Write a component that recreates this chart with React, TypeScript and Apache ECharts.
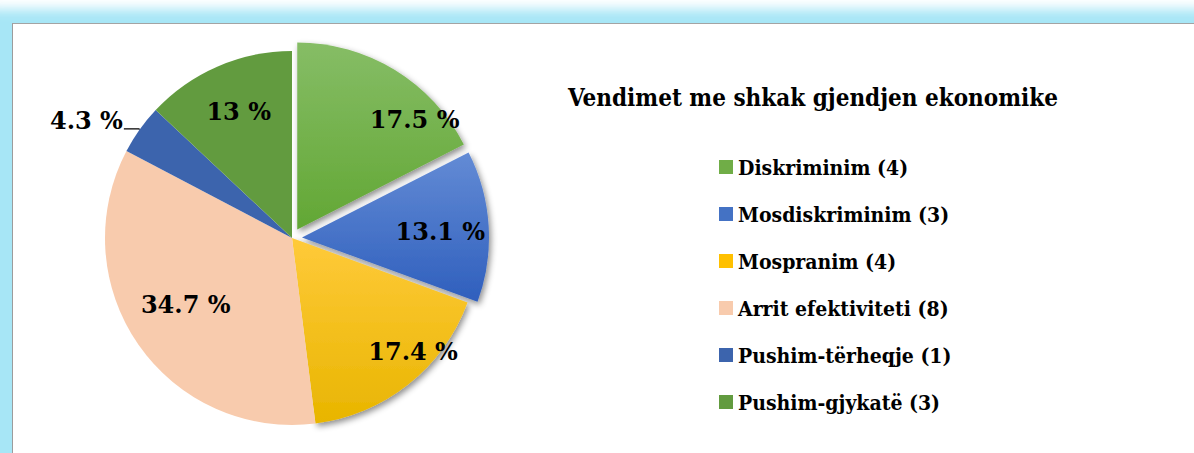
import React, { useEffect, useRef } from 'react';
import * as echarts from 'echarts';

// ---- data ----
const titleText = 'Vendimet me shkak gjendjen ekonomike';
const categories = ['Diskriminim', 'Mosdiskriminim', 'Mospranim', 'Arrit efektiviteti', 'Pushim-tërheqje', 'Pushim-gjykatë'];
const counts = [4, 3, 4, 8, 1, 3];
const percents = [17.5, 13.1, 17.4, 34.7, 4.3, 13];
const exploded = [true, true, false, false, false, false];

// ---- styles ----
const grad = (a: string, b: string) =>
  new echarts.graphic.LinearGradient(0, 0, 0, 1, [
    { offset: 0, color: a },
    { offset: 1, color: b },
  ]);
const sliceColors = [
  grad('#86bd66', '#62a734'),
  grad('#638bd5', '#2f5fbd'),
  grad('#ffca3a', '#e8b500'),
  '#f8cbad',
  '#3c64ad',
  '#629b3f',
];
const legendColors = ['#70ad47', '#4472c4', '#ffc000', '#f8cbad', '#3c64ad', '#629b3f'];
const shadowed = [true, true, true, false, false, false];
// label nudges [dx, dy] from ECharts' default inner-label anchor
const labelShift: number[][] = [
  [67, -28],
  [42, 0],
  [61, 38],
  [-27, 12],
  [0, 0],
  [-15, -38],
];
const outsideLabel = [false, false, false, false, true, false];

const LABEL_FONT = 'DejaVu Serif';
const TITLE_FONT = 'DejaVu Serif Condensed';
const LEGEND_FONT = 'DejaVu Serif Condensed';

export default function App() {
  const ref = useRef<HTMLDivElement>(null);

  useEffect(() => {
    if (!ref.current) return;
    const chart = echarts.init(ref.current, undefined, { renderer: 'svg' });

    const data = categories.map((cat, i) => {
      const item: any = {
        name: `${cat} (${counts[i]})`,
        value: percents[i],
        selected: exploded[i],
        itemStyle: {
          color: sliceColors[i],
          ...(shadowed[i]
            ? { shadowBlur: 6, shadowColor: 'rgba(0,0,0,0.45)', shadowOffsetX: 2, shadowOffsetY: 3 }
            : {}),
        },
      };
      if (outsideLabel[i]) {
        item.label = {
          position: 'outside',
          distanceToLabelLine: 1,
          padding: [0, 0, 16, 0],
        };
        item.labelLine = {
          show: true,
          length: 1,
          length2: 15,
          lineStyle: { color: '#000', width: 1.2 },
        };
      }
      return item;
    });

    const labelText = {
      fontFamily: LABEL_FONT,
      fontWeight: 'bold',
      fontSize: 24,
      lineHeight: 26,
      color: '#000',
    };

    chart.setOption({
      animation: false,
      backgroundColor: 'transparent',
      title: {
        text: titleText,
        left: 568,
        top: 85,
        padding: 0,
        textStyle: {
          fontFamily: TITLE_FONT,
          fontWeight: 'bold',
          fontSize: 24,
          color: '#000',
        },
      },
      legend: {
        orient: 'vertical',
        left: 719,
        top: 155,
        padding: 0,
        itemWidth: 14,
        itemHeight: 14,
        itemGap: 23,
        icon: 'rect',
        selectedMode: false,
        data: categories.map((cat, i) => ({
          name: `${cat} (${counts[i]})`,
          itemStyle: { color: legendColors[i], shadowBlur: 0, shadowOffsetX: 0, shadowOffsetY: 0 },
        })),
        textStyle: {
          fontFamily: LEGEND_FONT,
          fontWeight: 'bold',
          fontSize: 21,
          lineHeight: 24,
          color: '#000',
        },
      },
      series: [
        {
          type: 'pie',
          center: [292, 238],
          radius: [0, 187],
          startAngle: 90,
          clockwise: true,
          selectedMode: 'multiple',
          selectedOffset: 10,
          avoidLabelOverlap: false,
          emphasis: { disabled: true },
          silent: true,
          label: {
            show: true,
            position: 'inside',
            formatter: '{v|{c} %}',
            ...labelText,
            rich: { v: labelText },
          },
          labelLine: { show: false },
          labelLayout: (p: any) => {
            if (outsideLabel[p.dataIndex]) return {};
            const s = labelShift[p.dataIndex];
            return { dx: s[0], dy: s[1] };
          },
          data,
        },
      ],
    });

    return () => chart.dispose();
  }, []);

  return (
    <div
      style={{
        position: 'fixed',
        left: 0,
        top: 0,
        width: 1194,
        height: 453,
        overflow: 'hidden',
        background: '#ffffff',
      }}
    >
      <div
        style={{
          position: 'absolute',
          left: -30,
          top: 9,
          right: -40,
          bottom: -40,
          borderRadius: 22,
          background: '#a7e6f6',
          filter: 'blur(6px)',
        }}
      />
      <div
        style={{
          position: 'absolute',
          left: 12,
          top: 23,
          right: -10,
          bottom: -10,
          background: '#ffffff',
          borderLeft: '1px solid #9c9c9c',
          borderTop: '1px solid #a3a3a3',
        }}
      />
      <div ref={ref} style={{ position: 'absolute', left: 0, top: 0, width: 1194, height: 453 }} />
    </div>
  );
}
